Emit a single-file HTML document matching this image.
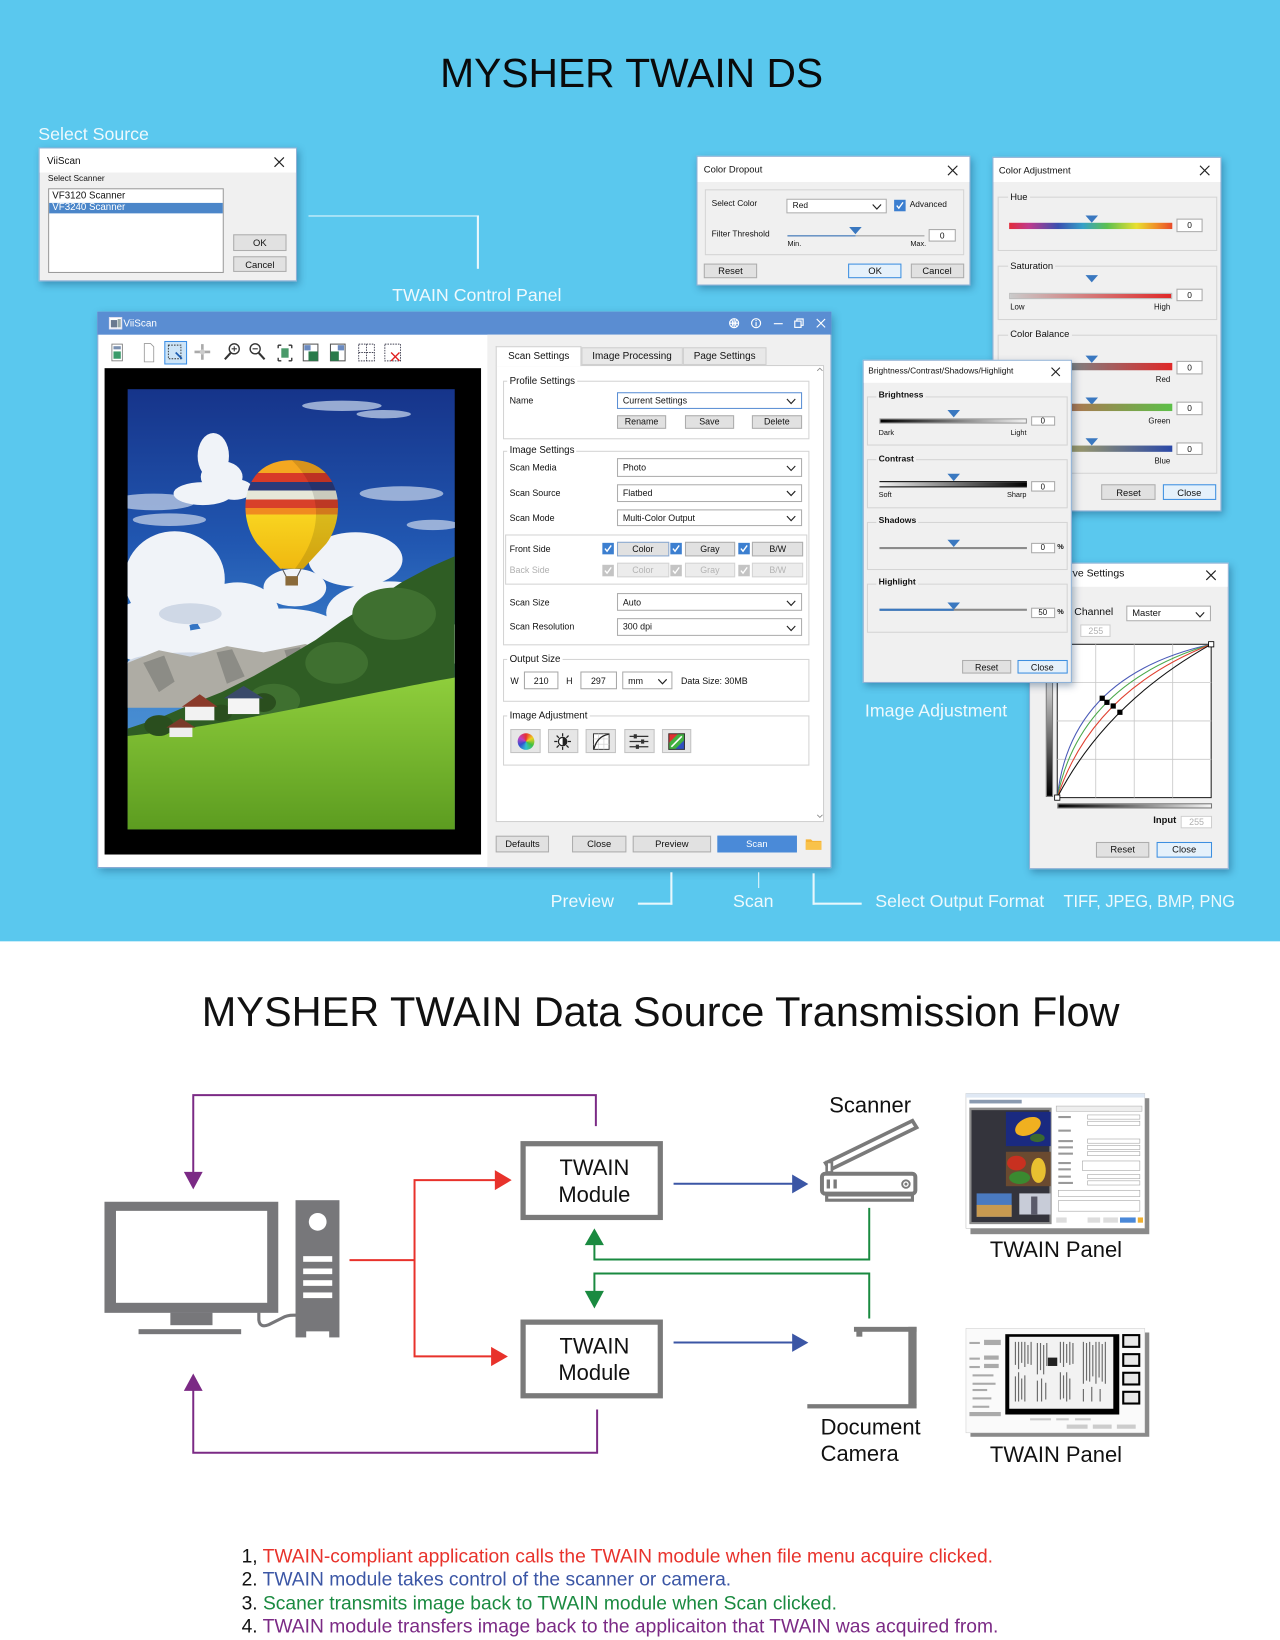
<!DOCTYPE html>
<html><head><meta charset="utf-8"><title>MYSHER TWAIN DS</title>
<style>
*{box-sizing:border-box}
html,body{margin:0;padding:0;background:#fff;width:1280px;height:1640px;overflow:hidden}
#w{position:absolute;left:0;top:0;width:1224px;height:1568px;transform:scale(1.04575,1.04592);transform-origin:0 0;font-family:"Liberation Sans",Arial,sans-serif;color:#111}
.a{position:absolute}
.t{position:absolute;white-space:nowrap;line-height:1}
.wl{color:#eef9fd;font-size:17px}
.dlg{position:absolute;background:#f0f0f0;border:1px solid #8db0d6;box-shadow:2px 3px 7px rgba(0,40,80,.35)}
.tb{position:absolute;background:#fff}
.btn{position:absolute;background:#e1e1e1;border:1px solid #adadad;font-size:9px;display:flex;align-items:center;justify-content:center;color:#111;white-space:nowrap}
.bb{background:#e5f1fb;border-color:#3d8fe0}
.inp{position:absolute;background:#fff;border:1px solid #a8a8a8;font-size:8px;display:flex;align-items:center;justify-content:center;white-space:nowrap}
.grp{position:absolute;border:1px solid #d4d4d4}
.dd{position:absolute;background:#fff;border:1px solid #adadad;font-size:8.5px;display:flex;align-items:center;padding-left:5px;white-space:nowrap}
.tri{position:absolute;width:0;height:0;border-left:6px solid transparent;border-right:6px solid transparent;border-top:7px solid #3a78c0}
.cb{position:absolute;width:11px;height:11px;background:#3c7fd0}
.cbd{position:absolute;width:11px;height:11px;background:#c4c4c4}
.gw{background:#fff;padding:0 2px}
.gg{background:#f0f0f0;padding:0 2px}
.dis{position:absolute;background:#ececec;border:1px solid #d4d4d4;font-size:9px;display:flex;align-items:center;justify-content:center;color:#b4b4b4}
</style></head><body><div id="w">

<!-- top blue band -->
<div class="a" style="left:0;top:0;width:1224px;height:900px;background:#5ac8ee"></div>
<div class="t" style="left:0;top:50.9px;width:1208px;text-align:center;font-size:39px;color:#0a0a0a">MYSHER TWAIN DS</div>

<!-- Select Source -->
<div class="t wl" style="left:36.6px;top:119.6px">Select Source</div>
<div class="dlg" style="left:36.6px;top:140.9px;width:247px;height:128px"></div>
<div class="tb" style="left:37.6px;top:141.9px;width:245px;height:23px"></div>
<div class="t" style="left:45px;top:150px;font-size:9.5px">ViiScan</div>
<svg class="a" style="left:262px;top:150px" width="10" height="10"><path d="M0.5 0.5L9.5 9.5M9.5 0.5L0.5 9.5" stroke="#222" stroke-width="1.1"/></svg>
<div class="t" style="left:45.8px;top:167px;font-size:8px">Select Scanner</div>
<div class="a" style="left:46.2px;top:180px;width:168.3px;height:80.8px;background:#fff;border:1px solid #9a9a9a"></div>
<div class="t" style="left:50px;top:182.6px;font-size:9.3px">VF3120 Scanner</div>
<div class="a" style="left:47.2px;top:193.5px;width:166.3px;height:10.8px;background:#4b86c9"></div>
<div class="t" style="left:50px;top:194.3px;font-size:9.3px;color:#fff">VF3240 Scanner</div>
<div class="btn" style="left:223px;top:224px;width:51px;height:15.5px">OK</div>
<div class="btn" style="left:223px;top:244.8px;width:51px;height:15.5px">Cancel</div>

<div class="a" style="left:295px;top:205.6px;width:163px;height:1.9px;background:#e8f7fc"></div>
<div class="a" style="left:456.2px;top:205.6px;width:1.9px;height:51px;background:#e8f7fc"></div>
<div class="t wl" style="left:375px;top:274.1px">TWAIN Control Panel</div>

<!-- MAIN WINDOW -->
<div class="a" style="left:92.8px;top:298.1px;width:702.2px;height:531.8px;background:#fff;border:1px solid #7fa5d2;box-shadow:2px 3px 8px rgba(0,40,80,.35)"></div>
<div class="a" style="left:92.8px;top:298.1px;width:702.2px;height:22.3px;background:#5a8dd2"></div>
<svg class="a" style="left:104px;top:303px" width="13" height="12"><rect x="0.5" y="0.5" width="12" height="11" fill="#fff" stroke="#dde" /><rect x="2" y="3" width="6" height="7" fill="#6a7a90"/><rect x="8.5" y="2" width="3" height="8" fill="#9aa"/></svg>
<div class="t" style="left:118px;top:304.5px;font-size:9.5px;color:#fff">ViiScan</div>
<svg class="a" style="left:695px;top:302px" width="96" height="14" viewBox="695 302 96 14">
<g fill="none" stroke="#fff" stroke-width="1.1">
<circle cx="702" cy="309" r="4.3"/><path d="M697.7 309h8.6M702 304.7v8.6M699.5 305.5q2.5 3.5 0 7M704.5 305.5q-2.5 3.5 0 7"/>
<circle cx="723" cy="309" r="4.3"/><path d="M723 308v4M723 306v1"/>
<path d="M740 309.5h8.5"/>
<rect x="760" y="307" width="6" height="6"/><path d="M762 307v-2h6v6h-2"/>
<path d="M781 305l8 8M789 305l-8 8"/>
</g></svg>
<div class="a" style="left:465.7px;top:320.4px;width:328.3px;height:508.5px;background:#f0f0f0"></div>

<!-- toolbar -->
<svg class="a" style="left:100px;top:324px" width="295" height="27" viewBox="100 324 295 27">
<rect x="107" y="329" width="10" height="16" fill="#fff" stroke="#777" stroke-width=".8"/><rect x="108.5" y="336" width="7" height="7" fill="#3a9a6a"/><rect x="108.5" y="331" width="7" height="3" fill="#7a90b0"/>
<path d="M138 328.5h6l3 3v14.5h-9z" fill="#fff" stroke="#999" stroke-width=".8"/>
<rect x="157.6" y="326.5" width="20.8" height="21.5" fill="#cce4f7" stroke="#3a8ee6"/><rect x="161" y="330" width="12" height="13" fill="none" stroke="#333" stroke-dasharray="1.5,1.2" stroke-width=".9"/><path d="M168 337l6 6" stroke="#1c5cb0" stroke-width="1.6"/>
<path d="M193.5 329v15M186 336.5h15" stroke="#aaa" stroke-width="2.5"/><circle cx="193.5" cy="336.5" r="2.5" fill="#ccc"/>
<circle cx="224" cy="333.5" r="4.8" fill="#fff" stroke="#333" stroke-width="1.3"/><path d="M220.5 337.5l-5.5 6" stroke="#333" stroke-width="2"/><path d="M221.5 333.5h5M224 331v5" stroke="#333"/>
<circle cx="244" cy="333.5" r="4.8" fill="#fff" stroke="#333" stroke-width="1.3"/><path d="M247.5 337.5l5.5 6" stroke="#333" stroke-width="2"/><path d="M241.5 333.5h5" stroke="#333"/>
<path d="M266 330h3M266 330v3M279 330h-3M279 330v3M266 345h3M266 345v-3M279 345h-3M279 345v-3" stroke="#333" stroke-width="1.3"/><rect x="269" y="333" width="7" height="9" fill="#4a9a6a"/>
<rect x="290" y="329" width="14" height="16" fill="#fff" stroke="#555"/><rect x="295" y="336" width="9" height="9" fill="#2a7a4a"/><rect x="291" y="330" width="6" height="5" fill="#6a8ac0"/>
<rect x="316" y="329" width="14" height="16" fill="#fff" stroke="#555"/><rect x="316" y="336" width="8" height="9" fill="#2a7a4a"/><rect x="323" y="330" width="6" height="5" fill="#6a8ac0"/>
<rect x="343" y="329" width="15" height="16" fill="none" stroke="#445" stroke-dasharray="1.5,1" stroke-width=".9"/><path d="M350.5 329v16M343 337h15" stroke="#445" stroke-dasharray="1.5,1" stroke-width=".9"/>
<rect x="368" y="329" width="15" height="16" fill="none" stroke="#445" stroke-dasharray="1.5,1" stroke-width=".9"/><path d="M374 337l8 8M382 337l-8 8" stroke="#e02020" stroke-width="1.3"/>
</svg>

<!-- preview area -->
<div class="a" style="left:99.6px;top:352.3px;width:360.3px;height:465.2px;background:#000"></div>
<svg class="a" style="left:121.9px;top:371.8px" width="312.9" height="421.6" viewBox="0 0 313 422" preserveAspectRatio="none">
<defs>
<linearGradient id="sky" x1="0" y1="0" x2="0" y2="1"><stop offset="0" stop-color="#16348a"/><stop offset="0.35" stop-color="#2157b1"/><stop offset="0.65" stop-color="#3f86cf"/><stop offset="1" stop-color="#5a9ad6"/></linearGradient>
<linearGradient id="mead" x1="0" y1="0" x2="0" y2="1"><stop offset="0" stop-color="#8fce3c"/><stop offset="1" stop-color="#5c9c20"/></linearGradient>
<linearGradient id="bal" x1="0" y1="0" x2="0" y2="1">
<stop offset="0" stop-color="#f4a820"/><stop offset=".12" stop-color="#f4a820"/><stop offset=".12" stop-color="#d83a28"/><stop offset=".2" stop-color="#d83a28"/><stop offset=".2" stop-color="#2b3a7a"/><stop offset=".28" stop-color="#2b3a7a"/><stop offset=".28" stop-color="#e6e8d8"/><stop offset=".36" stop-color="#e6e8d8"/><stop offset=".36" stop-color="#d8402a"/><stop offset=".44" stop-color="#d8402a"/><stop offset=".44" stop-color="#f08a20"/><stop offset=".5" stop-color="#f08a20"/><stop offset=".5" stop-color="#f8d420"/><stop offset="1" stop-color="#f0b810"/></linearGradient>
</defs>
<rect width="313" height="422" fill="url(#sky)"/>
<g fill="#b8c8e4" opacity=".8"><ellipse cx="205" cy="16" rx="38" ry="5"/><ellipse cx="245" cy="24" rx="26" ry="4"/><ellipse cx="25" cy="108" rx="40" ry="8"/><ellipse cx="40" cy="125" rx="35" ry="6"/><ellipse cx="262" cy="100" rx="40" ry="7"/><ellipse cx="292" cy="130" rx="25" ry="5"/></g>
<g fill="#f0f3f8"><ellipse cx="82" cy="64" rx="15" ry="22"/><ellipse cx="90" cy="84" rx="20" ry="15"/><ellipse cx="72" cy="100" rx="28" ry="11"/><ellipse cx="102" cy="96" rx="18" ry="10"/>
<ellipse cx="45" cy="182" rx="48" ry="46"/><ellipse cx="20" cy="232" rx="40" ry="30"/><ellipse cx="105" cy="215" rx="40" ry="30"/><ellipse cx="150" cy="238" rx="60" ry="28"/><ellipse cx="218" cy="163" rx="45" ry="26"/><ellipse cx="250" cy="214" rx="60" ry="30"/><ellipse cx="292" cy="244" rx="40" ry="22"/><ellipse cx="90" cy="250" rx="60" ry="22"/><ellipse cx="200" cy="250" rx="70" ry="20"/><ellipse cx="160" cy="190" rx="30" ry="18"/></g>
<g fill="#cfd8e6"><ellipse cx="60" cy="262" rx="60" ry="10"/><ellipse cx="200" cy="266" rx="80" ry="10"/><ellipse cx="60" cy="215" rx="30" ry="10"/><ellipse cx="250" cy="232" rx="40" ry="9"/></g>
<polygon points="0,262 30,250 60,256 95,246 130,252 170,244 205,256 230,262 230,305 0,305" fill="#aeaca4"/>
<g fill="#8c8c86"><polygon points="15,262 35,255 45,280 30,290"/><polygon points="85,252 100,249 112,275 95,282"/><polygon points="150,250 165,247 172,270 158,275"/></g>
<polygon points="313,160 290,170 262,185 232,205 205,222 180,240 150,258 120,275 90,290 60,302 30,315 0,325 0,422 313,422" fill="#2f5d24"/>
<g fill="#3f7030"><ellipse cx="255" cy="215" rx="40" ry="25"/><ellipse cx="200" cy="262" rx="30" ry="20"/><ellipse cx="140" cy="298" rx="25" ry="16"/></g>
<path d="M0,332 C60,326 130,312 200,298 C250,288 290,280 313,276 L313,422 L0,422 Z" fill="url(#mead)"/>
<g fill="#2a4e1e"><ellipse cx="30" cy="322" rx="14" ry="10"/><ellipse cx="130" cy="300" rx="12" ry="9"/><ellipse cx="90" cy="310" rx="10" ry="8"/></g>
<rect x="55" y="302" width="28" height="15" fill="#f2f2f2"/><polygon points="52,304 69,292 86,304" fill="#8a3a2a"/>
<rect x="96" y="294" width="30" height="17" fill="#f4f4f4"/><polygon points="92,296 111,284 130,296" fill="#3a4a6a"/>
<rect x="40" y="322" width="22" height="11" fill="#eee"/><polygon points="37,324 51,315 65,324" fill="#7a3a2a"/>
<path d="M157,68 C206,68 210,122 190,148 L168,172 L146,172 L124,148 C104,122 108,68 157,68 Z" fill="url(#bal)"/>
<path d="M157,68 C206,68 210,122 190,148 L168,172 L160,172 C185,140 190,100 157,68 Z" fill="#000" opacity=".12"/>
<path d="M148,172 L152,180 M166,172 L162,180" stroke="#555" stroke-width="1"/>
<rect x="151" y="179" width="12" height="9" fill="#8a6a3a"/>
</svg>

<!-- right panel: tabs -->
<div class="a" style="left:556.2px;top:332.2px;width:96.4px;height:16.5px;background:#e8e8e8;border:1px solid #cfcfcf;font-size:9.5px;display:flex;align-items:center;justify-content:center">Image Processing</div>
<div class="a" style="left:652.6px;top:332.2px;width:80.7px;height:16.5px;background:#e8e8e8;border:1px solid #cfcfcf;font-size:9.5px;display:flex;align-items:center;justify-content:center">Page Settings</div>
<div class="a" style="left:474.2px;top:348.7px;width:313.7px;height:436.9px;background:#fff;border:1px solid #cfcfcf"></div>
<div class="a" style="left:474.2px;top:330.5px;width:82px;height:19.2px;background:#fff;border:1px solid #cfcfcf;border-bottom:none;font-size:9.5px;display:flex;align-items:center;justify-content:center">Scan Settings</div>
<svg class="a" style="left:780px;top:349px" width="8" height="436" viewBox="0 0 8 436"><path d="M1.5 5.5l2.5-2.5 2.5 2.5M1.5 430l2.5 2.5 2.5-2.5" fill="none" stroke="#888" stroke-width=".8"/></svg>

<!-- Profile settings -->
<div class="grp" style="left:480.7px;top:364px;width:293.3px;height:55.9px"></div>
<div class="t gw" style="left:485.3px;top:359.5px;font-size:9.3px">Profile Settings</div>
<div class="t" style="left:487.3px;top:379.1px;font-size:8.5px">Name</div>
<div class="dd" style="left:589.6px;top:375.3px;width:177.6px;height:15.9px;border-color:#5b8fd4">Current Settings<svg class="a" style="right:5px;top:5px" width="9" height="6"><polyline points="0.5,0.5 4.5,4.8 8.5,0.5" fill="none" stroke="#222" stroke-width="1.1"/></svg></div>
<div class="btn" style="left:589.6px;top:396.5px;width:47.8px;height:13.1px;font-size:8.5px">Rename</div>
<div class="btn" style="left:654.5px;top:396.5px;width:47.7px;height:13.1px;font-size:8.5px">Save</div>
<div class="btn" style="left:718.5px;top:396.5px;width:48.7px;height:13.1px;font-size:8.5px">Delete</div>

<!-- Image settings -->
<div class="grp" style="left:480.7px;top:431.2px;width:293.3px;height:185.8px"></div>
<div class="t gw" style="left:485.3px;top:426.4px;font-size:9.3px">Image Settings</div>
<div class="t" style="left:487.3px;top:442.8px;font-size:8.5px">Scan Media</div>
<div class="dd" style="left:589.6px;top:438.2px;width:177.6px;height:17.4px">Photo<svg class="a" style="right:5px;top:5.5px" width="9" height="6"><polyline points="0.5,0.5 4.5,4.8 8.5,0.5" fill="none" stroke="#222" stroke-width="1.1"/></svg></div>
<div class="t" style="left:487.3px;top:467.1px;font-size:8.5px">Scan Source</div>
<div class="dd" style="left:589.6px;top:462.7px;width:177.6px;height:16.9px">Flatbed<svg class="a" style="right:5px;top:5.5px" width="9" height="6"><polyline points="0.5,0.5 4.5,4.8 8.5,0.5" fill="none" stroke="#222" stroke-width="1.1"/></svg></div>
<div class="t" style="left:487.3px;top:490.9px;font-size:8.5px">Scan Mode</div>
<div class="dd" style="left:589.6px;top:486.7px;width:177.6px;height:16.6px">Multi-Color Output<svg class="a" style="right:5px;top:5.5px" width="9" height="6"><polyline points="0.5,0.5 4.5,4.8 8.5,0.5" fill="none" stroke="#222" stroke-width="1.1"/></svg></div>
<div class="grp" style="left:483px;top:510.8px;width:288.8px;height:48.5px"></div>
<div class="t" style="left:487.3px;top:520.6px;font-size:8.5px">Front Side</div>
<div class="cb" style="left:576.1px;top:519.2px"><svg width="11" height="11" style="display:block"><polyline points="2.5,5.5 4.5,8 8.5,2.5" fill="none" stroke="#fff" stroke-width="1.3"/></svg></div>
<div class="btn" style="left:589.6px;top:517.5px;width:50.2px;height:14.5px;font-size:8.5px;border-color:#8aa8d0">Color</div>
<div class="cb" style="left:641px;top:519.2px"><svg width="11" height="11" style="display:block"><polyline points="2.5,5.5 4.5,8 8.5,2.5" fill="none" stroke="#fff" stroke-width="1.3"/></svg></div>
<div class="btn" style="left:654.5px;top:517.5px;width:48.7px;height:14.5px;font-size:8.5px">Gray</div>
<div class="cb" style="left:706px;top:519.2px"><svg width="11" height="11" style="display:block"><polyline points="2.5,5.5 4.5,8 8.5,2.5" fill="none" stroke="#fff" stroke-width="1.3"/></svg></div>
<div class="btn" style="left:719.4px;top:517.5px;width:48.7px;height:14.5px;font-size:8.5px">B/W</div>
<div class="t" style="left:487.3px;top:541px;font-size:8.5px;color:#b0b0b0">Back Side</div>
<div class="cbd" style="left:576.1px;top:539.6px"><svg width="11" height="11" style="display:block"><polyline points="2.5,5.5 4.5,8 8.5,2.5" fill="none" stroke="#fff" stroke-width="1.3"/></svg></div>
<div class="dis" style="left:589.6px;top:538px;width:50.2px;height:14.2px;font-size:8.5px">Color</div>
<div class="cbd" style="left:641px;top:539.6px"><svg width="11" height="11" style="display:block"><polyline points="2.5,5.5 4.5,8 8.5,2.5" fill="none" stroke="#fff" stroke-width="1.3"/></svg></div>
<div class="dis" style="left:654.5px;top:538px;width:48.7px;height:14.2px;font-size:8.5px">Gray</div>
<div class="cbd" style="left:706px;top:539.6px"><svg width="11" height="11" style="display:block"><polyline points="2.5,5.5 4.5,8 8.5,2.5" fill="none" stroke="#fff" stroke-width="1.3"/></svg></div>
<div class="dis" style="left:719.4px;top:538px;width:48.7px;height:14.2px;font-size:8.5px">B/W</div>
<div class="t" style="left:487.3px;top:571.6px;font-size:8.5px">Scan Size</div>
<div class="dd" style="left:589.6px;top:567.4px;width:177.6px;height:16.6px">Auto<svg class="a" style="right:5px;top:5.5px" width="9" height="6"><polyline points="0.5,0.5 4.5,4.8 8.5,0.5" fill="none" stroke="#222" stroke-width="1.1"/></svg></div>
<div class="t" style="left:487.3px;top:595.4px;font-size:8.5px">Scan Resolution</div>
<div class="dd" style="left:589.6px;top:591.1px;width:177.6px;height:16.7px">300 dpi<svg class="a" style="right:5px;top:5.5px" width="9" height="6"><polyline points="0.5,0.5 4.5,4.8 8.5,0.5" fill="none" stroke="#222" stroke-width="1.1"/></svg></div>

<!-- Output size -->
<div class="grp" style="left:480.7px;top:630px;width:293.3px;height:40.7px"></div>
<div class="t gw" style="left:485.3px;top:626px;font-size:9.3px">Output Size</div>
<div class="t" style="left:488px;top:646.6px;font-size:8.5px">W</div>
<div class="inp" style="left:500.6px;top:642.4px;width:33.9px;height:16.6px;font-size:8.5px">210</div>
<div class="t" style="left:541.4px;top:646.6px;font-size:8.5px">H</div>
<div class="inp" style="left:554.8px;top:642.4px;width:34.8px;height:16.6px;font-size:8.5px">297</div>
<div class="dd" style="left:594.7px;top:642.4px;width:48.3px;height:16.6px">mm<svg class="a" style="right:4px;top:5.5px" width="9" height="6"><polyline points="0.5,0.5 4.5,4.8 8.5,0.5" fill="none" stroke="#222" stroke-width="1.1"/></svg></div>
<div class="t" style="left:651.2px;top:646.6px;font-size:8.5px">Data Size: 30MB</div>

<!-- Image adjustment -->
<div class="grp" style="left:480.7px;top:683.7px;width:293.3px;height:48.2px"></div>
<div class="t gw" style="left:485.3px;top:680.1px;font-size:9.3px">Image Adjustment</div>
<div class="a" style="left:488.1px;top:697.3px;width:28.9px;height:22.9px;background:#e6e6e6;border:1px solid #c4c4c4"></div>
<div class="a" style="left:494.5px;top:700.7px;width:16px;height:16px;border-radius:50%;background:conic-gradient(#e83030,#f0d020,#40c040,#30c0d0,#3050d0,#c040c0,#e83030)"></div>
<div class="a" style="left:523.8px;top:697.3px;width:29.2px;height:22.9px;background:#e6e6e6;border:1px solid #c4c4c4"></div>
<svg class="a" style="left:529.4px;top:699.7px" width="18" height="18"><g stroke="#222" stroke-width="1.2"><path d="M9 1v3M9 14v3M1 9h3M14 9h3M3.3 3.3l2.1 2.1M12.6 12.6l2.1 2.1M3.3 14.7l2.1-2.1M12.6 5.4l2.1-2.1"/></g><circle cx="9" cy="9" r="4" fill="#fff" stroke="#222" stroke-width="1.2"/><path d="M9 5a4 4 0 0 1 0 8z" fill="#222"/></svg>
<div class="a" style="left:559.9px;top:697.3px;width:29.2px;height:22.9px;background:#e6e6e6;border:1px solid #c4c4c4"></div>
<svg class="a" style="left:566.5px;top:700.7px" width="16" height="16"><rect x=".5" y=".5" width="15" height="15" fill="#fff" stroke="#333"/><path d="M5.5 .5v15M10.5 .5v15M.5 5.5h15M.5 10.5h15" stroke="#ccc" stroke-width=".6"/><path d="M1 15Q4 3 15 1" fill="none" stroke="#222" stroke-width="1.2"/></svg>
<div class="a" style="left:596.5px;top:697.3px;width:29.2px;height:22.9px;background:#e6e6e6;border:1px solid #c4c4c4"></div>
<svg class="a" style="left:601px;top:701px" width="20" height="16"><path d="M1 3h18M1 8h18M1 13h18" stroke="#333" stroke-width="1.2"/><rect x="5" y="1" width="3" height="4" fill="#333"/><rect x="12" y="6" width="3" height="4" fill="#333"/><rect x="7" y="11" width="3" height="4" fill="#333"/></svg>
<div class="a" style="left:632.7px;top:697.3px;width:28.7px;height:22.9px;background:#e6e6e6;border:1px solid #c4c4c4"></div>
<svg class="a" style="left:639px;top:700.7px" width="16" height="16"><polygon points="0,0 16,0 0,16" fill="#e03030"/><polygon points="16,0 16,16 0,16" fill="#3050c0"/><polygon points="10,0 16,0 16,6 6,16 0,16 0,10" fill="#40b040"/><path d="M3 13L13 3" stroke="#fff" stroke-width="1.5"/><rect x=".5" y=".5" width="15" height="15" fill="none" stroke="#333"/></svg>

<!-- bottom buttons -->
<div class="btn" style="left:474.2px;top:798.7px;width:50.9px;height:16.3px">Defaults</div>
<div class="btn" style="left:547px;top:798.7px;width:51.9px;height:16.3px">Close</div>
<div class="btn" style="left:604.9px;top:798.7px;width:75.1px;height:16.3px">Preview</div>
<div class="btn" style="left:686px;top:798.7px;width:75.5px;height:16.3px;background:#4a8ad8;border-color:#4a8ad8;color:#fff">Scan</div>
<svg class="a" style="left:770.4px;top:800.4px" width="16" height="13"><path d="M0.5 2.5h5l1.5 1.5h8.5v8.5h-15z" fill="#f5b335"/><path d="M0.5 5h15v7.5h-15z" fill="#f9c24a"/></svg>

<!-- connectors below window -->
<div class="a" style="left:641.3px;top:834.4px;width:1.5px;height:30.2px;background:#e8f7fc"></div>
<div class="a" style="left:610px;top:863.1px;width:32.8px;height:1.5px;background:#e8f7fc"></div>
<div class="a" style="left:724.7px;top:834.4px;width:1.5px;height:15px;background:#e8f7fc"></div>
<div class="a" style="left:777px;top:835px;width:1.5px;height:29.6px;background:#e8f7fc"></div>
<div class="a" style="left:777px;top:863.1px;width:46.8px;height:1.5px;background:#e8f7fc"></div>
<div class="t wl" style="left:526.6px;top:853.2px">Preview</div>
<div class="t wl" style="left:700.9px;top:853.2px">Scan</div>
<div class="t wl" style="left:837px;top:853.2px">Select Output Format</div>
<div class="t wl" style="left:1017.4px;top:853.2px;transform:scaleX(.92);transform-origin:0 0">TIFF, JPEG, BMP, PNG</div>

<!-- COLOR DROPOUT -->
<div class="dlg" style="left:665.7px;top:149.2px;width:262.4px;height:124.3px"></div>
<div class="tb" style="left:666.7px;top:150.2px;width:260.4px;height:23.5px"></div>
<div class="t" style="left:673px;top:157.5px;font-size:9px">Color Dropout</div>
<svg class="a" style="left:906px;top:157.8px" width="10" height="10"><path d="M0.5 0.5L9.5 9.5M9.5 0.5L0.5 9.5" stroke="#222" stroke-width="1.1"/></svg>
<div class="grp" style="left:673.7px;top:181px;width:247.9px;height:62.8px"></div>
<div class="t" style="left:680.5px;top:191.4px;font-size:8px">Select Color</div>
<div class="dd" style="left:752px;top:189.6px;width:95.5px;height:14.4px;font-size:8px">Red<svg class="a" style="right:4px;top:4.5px" width="9" height="6"><polyline points="0.5,0.5 4.5,4.8 8.5,0.5" fill="none" stroke="#222" stroke-width="1.1"/></svg></div>
<div class="cb" style="left:854.8px;top:191.2px"><svg width="11" height="11" style="display:block"><polyline points="2.5,5.5 4.5,8 8.5,2.5" fill="none" stroke="#fff" stroke-width="1.3"/></svg></div>
<div class="t" style="left:869.9px;top:192.1px;font-size:8px">Advanced</div>
<div class="t" style="left:680.5px;top:219.5px;font-size:8px">Filter Threshold</div>
<div class="a" style="left:753px;top:224.7px;width:131.3px;height:1.6px;background:#9a9a9a"></div>
<div class="a" style="left:753px;top:224.7px;width:65px;height:1.6px;background:#3a78c0"></div>
<div class="tri" style="left:812.3px;top:216.8px"></div>
<div class="inp" style="left:888px;top:219px;width:25.9px;height:12.1px">0</div>
<div class="t" style="left:753px;top:230px;font-size:7px">Min.</div>
<div class="t" style="left:870.5px;top:230px;font-size:7px">Max.</div>
<div class="btn" style="left:673px;top:251.8px;width:51px;height:14.3px">Reset</div>
<div class="btn bb" style="left:811.3px;top:251.8px;width:51px;height:14.3px">OK</div>
<div class="btn" style="left:870.5px;top:251.8px;width:51.1px;height:14.3px">Cancel</div>

<!-- COLOR ADJUSTMENT -->
<div class="dlg" style="left:948.6px;top:149.8px;width:219.9px;height:338.8px"></div>
<div class="tb" style="left:949.6px;top:150.8px;width:217.9px;height:23.5px"></div>
<div class="t" style="left:955.2px;top:158.8px;font-size:9px">Color Adjustment</div>
<svg class="a" style="left:1147px;top:158.4px" width="10" height="10"><path d="M0.5 0.5L9.5 9.5M9.5 0.5L0.5 9.5" stroke="#222" stroke-width="1.1"/></svg>
<div class="grp" style="left:953.5px;top:188px;width:210.1px;height:52px"></div>
<div class="t gg" style="left:964px;top:183.6px;font-size:9px">Hue</div>
<div class="tri" style="left:1037.7px;top:205.6px"></div>
<div class="a" style="left:965.4px;top:212.6px;width:156.1px;height:6.4px;background:linear-gradient(90deg,#e22b3a 0%,#c03a8c 12%,#3a4fb0 30%,#36a0c8 45%,#5cc050 60%,#e8e030 78%,#f09028 90%,#e84a2a 100%)"></div>
<div class="inp" style="left:1124.7px;top:209.4px;width:25.6px;height:12.4px">0</div>
<div class="grp" style="left:953.5px;top:254.3px;width:210.1px;height:51.7px"></div>
<div class="t gg" style="left:964px;top:249.6px;font-size:9px">Saturation</div>
<div class="tri" style="left:1037.7px;top:262.9px"></div>
<div class="a" style="left:965.4px;top:279.5px;width:156.1px;height:6.1px;background:linear-gradient(90deg,#cacaca,#e02828);border:1px solid #bbb"></div>
<div class="inp" style="left:1124.7px;top:276px;width:25.6px;height:12.4px">0</div>
<div class="t" style="left:966px;top:290.1px;font-size:7.5px">Low</div>
<div class="t" style="left:1080px;top:290.1px;width:39px;text-align:right;font-size:7.5px">High</div>
<div class="grp" style="left:953.5px;top:320.3px;width:210.1px;height:132.3px"></div>
<div class="t gg" style="left:964px;top:315.3px;font-size:9px">Color Balance</div>
<div class="tri" style="left:1037.7px;top:339.5px"></div>
<div class="a" style="left:965.4px;top:347.4px;width:156.1px;height:7px;background:linear-gradient(90deg,#40b8b8,#e02828)"></div>
<div class="inp" style="left:1124.7px;top:344.8px;width:25.6px;height:12.8px">0</div>
<div class="t" style="left:1080px;top:359.3px;width:39px;text-align:right;font-size:7.5px">Red</div>
<div class="tri" style="left:1037.7px;top:379.5px"></div>
<div class="a" style="left:965.4px;top:386.3px;width:156.1px;height:7px;background:linear-gradient(90deg,#e04858,#5cc048)"></div>
<div class="inp" style="left:1124.7px;top:383.8px;width:25.6px;height:12.8px">0</div>
<div class="t" style="left:1080px;top:398.5px;width:39px;text-align:right;font-size:7.5px">Green</div>
<div class="tri" style="left:1037.7px;top:418.5px"></div>
<div class="a" style="left:965.4px;top:425.5px;width:156.1px;height:6.7px;background:linear-gradient(90deg,#e8d040,#2a48a8)"></div>
<div class="inp" style="left:1124.7px;top:423px;width:25.6px;height:12px">0</div>
<div class="t" style="left:1080px;top:436.7px;width:39px;text-align:right;font-size:7.5px">Blue</div>
<div class="btn" style="left:1053.3px;top:463.1px;width:51.7px;height:15px">Reset</div>
<div class="btn bb" style="left:1111.6px;top:463.1px;width:51.4px;height:15px">Close</div>

<!-- CURVE SETTINGS -->
<div class="dlg" style="left:984.2px;top:538px;width:191.3px;height:293.2px"></div>
<div class="tb" style="left:985.2px;top:539px;width:189.3px;height:22px"></div>
<div class="t" style="left:1009.6px;top:543.5px;font-size:10px">Curve Settings</div>
<svg class="a" style="left:1153.2px;top:545px" width="10" height="10"><path d="M0.5 0.5L9.5 9.5M9.5 0.5L0.5 9.5" stroke="#222" stroke-width="1.1"/></svg>
<div class="t" style="left:1027.3px;top:580.5px;font-size:10px">Channel</div>
<div class="dd" style="left:1076.7px;top:579.1px;width:81.3px;height:14.7px;font-size:9px">Master<svg class="a" style="right:5px;top:4.5px" width="9" height="6"><polyline points="0.5,0.5 4.5,4.8 8.5,0.5" fill="none" stroke="#222" stroke-width="1.1"/></svg></div>
<div class="inp" style="left:1033.4px;top:597px;width:29px;height:11.8px;color:#b0b0b0;border-color:#cfcfcf;font-size:8.5px">255</div>
<div class="a" style="left:1000.2px;top:650.2px;width:6.4px;height:112.2px;background:linear-gradient(180deg,#d8d8d8,#000);border:1px solid #777"></div>
<div class="a" style="left:1011.4px;top:767.5px;width:147.2px;height:5.7px;background:linear-gradient(90deg,#000,#f4f4f4);border:1px solid #777"></div>
<svg class="a" style="left:1011.4px;top:615.8px;overflow:visible" width="147.2" height="146.6" viewBox="0 0 147.2 146.6">
<rect x="0" y="0" width="147.2" height="146.6" fill="#fff" stroke="#222" stroke-width="1"/>
<path d="M36.8 0v146.6M73.6 0v146.6M110.4 0v146.6M0 36.65h147.2M0 73.3h147.2M0 109.95h147.2" stroke="#c8c8c8" stroke-width=".8"/>
<g fill="none" stroke-width="1"><path d="M0 146.6Q12.4 29.9 147.2 0" stroke="#4a5ab8"/><path d="M0 146.6Q21.4 37.7 147.2 0" stroke="#4aa84a"/><path d="M0 146.6Q33.4 44.7 147.2 0" stroke="#e04030"/><path d="M0 146.6Q46.2 56.7 147.2 0" stroke="#111"/></g>
<g fill="#000"><rect x="40.5" y="49.1" width="5" height="5"/><rect x="45" y="53" width="5" height="5"/><rect x="51" y="56.5" width="5" height="5"/><rect x="57.4" y="62.5" width="5" height="5"/></g>
<rect x="-2.5" y="144.1" width="5" height="5" fill="#fff" stroke="#000" stroke-width=".8"/><rect x="144.7" y="-2.5" width="5" height="5" fill="#fff" stroke="#000" stroke-width=".8"/>
</svg>
<div class="t" style="left:1102.8px;top:780.3px;font-size:9px;font-weight:bold">Input</div>
<div class="inp" style="left:1129.3px;top:780px;width:29.9px;height:12px;color:#b0b0b0;border-color:#cfcfcf;font-size:8.5px">255</div>
<div class="btn" style="left:1047.7px;top:804.8px;width:51.7px;height:15px">Reset</div>
<div class="btn bb" style="left:1106px;top:804.8px;width:52.8px;height:15px">Close</div>

<!-- BRIGHTNESS dialog -->
<div class="dlg" style="left:824.9px;top:344.2px;width:200.5px;height:309.2px"></div>
<div class="tb" style="left:825.9px;top:345.2px;width:198.5px;height:20.7px"></div>
<div class="t" style="left:830.3px;top:350.8px;font-size:8px">Brightness/Contrast/Shadows/Highlight</div>
<svg class="a" style="left:1005px;top:350.7px" width="9" height="9"><path d="M0.5 0.5L8.5 8.5M8.5 0.5L0.5 8.5" stroke="#222" stroke-width="1.1"/></svg>
<div class="grp" style="left:829.3px;top:378.7px;width:191.3px;height:47.5px"></div>
<div class="t gg" style="left:838.2px;top:374px;font-size:8.2px;font-weight:bold">Brightness</div>
<div class="tri" style="left:905.5px;top:392px"></div>
<div class="a" style="left:840.5px;top:399.7px;width:141.2px;height:5.1px;background:linear-gradient(90deg,#000,#f2f2f2);border:1px solid #999"></div>
<div class="inp" style="left:985.5px;top:397.5px;width:23.3px;height:9.8px;font-size:7.5px">0</div>
<div class="t" style="left:840.2px;top:410.7px;font-size:7px">Dark</div>
<div class="t" style="left:941.6px;top:410.7px;width:40px;text-align:right;font-size:7px">Light</div>
<div class="grp" style="left:829.3px;top:439.2px;width:191.3px;height:46.8px"></div>
<div class="t gg" style="left:838.2px;top:434.6px;font-size:8.2px;font-weight:bold">Contrast</div>
<div class="tri" style="left:905.5px;top:452.6px"></div>
<div class="a" style="left:840.5px;top:460px;width:141.2px;height:5.7px;background:linear-gradient(90deg,#f4f4f4,#000);border-top:1.6px solid #000;border-bottom:1.6px solid #000"></div>
<div class="inp" style="left:985.5px;top:460.1px;width:23.3px;height:9.9px;font-size:7.5px">0</div>
<div class="t" style="left:840.2px;top:469.6px;font-size:7px">Soft</div>
<div class="t" style="left:941.6px;top:469.6px;width:40px;text-align:right;font-size:7px">Sharp</div>
<div class="grp" style="left:829.3px;top:498.5px;width:191.3px;height:46.5px"></div>
<div class="t gg" style="left:838.2px;top:493.8px;font-size:8.2px;font-weight:bold">Shadows</div>
<div class="tri" style="left:905.5px;top:515.9px"></div>
<div class="a" style="left:840.5px;top:522.7px;width:141.2px;height:1.9px;background:#8a8a8a"></div>
<div class="inp" style="left:985.5px;top:518.9px;width:23.3px;height:9.9px;font-size:7.5px">0</div>
<div class="t" style="left:1011px;top:520px;font-size:7px;font-weight:bold">%</div>
<div class="grp" style="left:829.3px;top:557.8px;width:191.3px;height:47.2px"></div>
<div class="t gg" style="left:838.2px;top:553.1px;font-size:8.2px;font-weight:bold">Highlight</div>
<div class="tri" style="left:905.5px;top:575.6px"></div>
<div class="a" style="left:840.5px;top:582.3px;width:141.2px;height:1.9px;background:#8a8a8a"></div>
<div class="a" style="left:840.5px;top:582.3px;width:71px;height:1.9px;background:#3a78c0"></div>
<div class="inp" style="left:985.5px;top:580.6px;width:23.3px;height:10.2px;font-size:7.5px">50</div>
<div class="t" style="left:1011px;top:582px;font-size:7px;font-weight:bold">%</div>
<div class="btn" style="left:919.6px;top:631.1px;width:47.8px;height:13.4px;font-size:8.5px">Reset</div>
<div class="btn bb" style="left:972.8px;top:631.1px;width:47.8px;height:13.4px;font-size:8.5px">Close</div>

<div class="t wl" style="left:827.1px;top:670.9px">Image Adjustment</div>

<!-- FLOW DIAGRAM -->
<svg class="a" style="left:0;top:900px" width="1224" height="668" viewBox="0 900 1224 668">
<text x="192.9" y="980.8" font-size="39.7" fill="#111">MYSHER TWAIN Data Source Transmission Flow</text>

<g fill="none" stroke="#7b2a85" stroke-width="1.9"><polyline points="569.8,1076.7 569.8,1047 184.8,1047 184.8,1122"/><polyline points="184.8,1328 184.8,1389 571,1389 571,1347.6"/></g>
<g fill="#7b2a85"><polygon points="175.8,1120.4 193.8,1120.4 184.8,1137.2"/><polygon points="175.8,1329.8 193.8,1329.8 184.8,1313.2"/></g>

<g fill="none" stroke="#e8322b" stroke-width="1.9"><polyline points="334.2,1204.8 396.4,1204.8"/><polyline points="475,1128.3 396.4,1128.3 396.4,1296.8 471,1296.8"/></g>
<g fill="#e8322b"><polygon points="473.2,1118.8 489.3,1128.3 473.2,1137.9"/><polygon points="469.6,1287.7 485.7,1297 469.6,1306.2"/></g>

<g stroke="#3b56a5" stroke-width="1.9"><line x1="644.1" y1="1131.8" x2="760" y2="1131.8"/><line x1="644.1" y1="1283.6" x2="760" y2="1283.6"/></g>
<g fill="#3b56a5"><polygon points="757.5,1122.9 773,1132 757.5,1141"/><polygon points="757.5,1274.9 773,1283.7 757.5,1292.5"/></g>

<g fill="none" stroke="#1a8a40" stroke-width="1.9"><polyline points="831.2,1154.8 831.2,1204.2 568.4,1204.2 568.4,1189"/><polyline points="831.2,1260.6 831.2,1217.6 568.4,1217.6 568.4,1236"/></g>
<g fill="#1a8a40"><polygon points="559.2,1190.5 577.5,1190.5 568.4,1174.5"/><polygon points="559.2,1234.2 577.5,1234.2 568.4,1251"/></g>

<rect x="500.2" y="1093.5" width="131.2" height="70.5" fill="#fff" stroke="#7a7a7a" stroke-width="5"/>
<rect x="500.2" y="1264.1" width="131.2" height="70.4" fill="#fff" stroke="#7a7a7a" stroke-width="5"/>
<g font-size="21" text-anchor="middle" fill="#111"><text x="568.4" y="1123.5">TWAIN</text><text x="568.4" y="1149">Module</text><text x="568.4" y="1294">TWAIN</text><text x="568.4" y="1319.6">Module</text></g>

<!-- computer -->
<rect x="99.9" y="1149" width="166.2" height="106.2" fill="#77777a"/>
<rect x="110.9" y="1157.7" width="144.6" height="87.9" fill="#fff"/>
<rect x="162.9" y="1255" width="40.3" height="12" fill="#77777a"/>
<rect x="132.5" y="1270.8" width="98.1" height="4.8" fill="#77777a"/>
<path d="M247.5,1255 L247.5,1262 Q248.5,1270 257,1266.5 L270,1260 Q275,1257 283,1257.5" fill="none" stroke="#77777a" stroke-width="3"/>
<rect x="282.6" y="1147.5" width="42" height="131.2" fill="#77777a"/>
<rect x="292.8" y="1272.9" width="22" height="6" fill="#fff"/>
<circle cx="303.8" cy="1168.2" r="8.5" fill="#fff"/>
<g fill="#fff"><rect x="289.9" y="1201" width="27.8" height="5.4"/><rect x="289.9" y="1212.8" width="27.8" height="5.4"/><rect x="289.9" y="1224" width="27.8" height="5.4"/><rect x="289.9" y="1235.7" width="27.8" height="5.4"/></g>

<!-- scanner -->
<text x="793" y="1063.6" font-size="21" fill="#111">Scanner</text>
<g fill="#fff" stroke="#7a7a7a">
<polygon points="789.5,1112 872.5,1071.5 876.5,1078 793.5,1118.5" stroke-width="3.5"/>
<rect x="790.5" y="1111" width="5" height="10" stroke-width="2.5"/>
<rect x="786" y="1122.2" width="89.3" height="19" rx="3" stroke-width="3.8"/>
<rect x="790.5" y="1142.5" width="82" height="5" stroke-width="3"/>
</g>
<g fill="#7a7a7a"><rect x="790.5" y="1127.7" width="3.2" height="8.6"/><rect x="797" y="1127.7" width="3.2" height="8.6"/><circle cx="866.3" cy="1132.1" r="1.4"/></g>
<circle cx="866.3" cy="1132.1" r="3.6" fill="none" stroke="#7a7a7a" stroke-width="1.8"/>

<!-- document camera -->
<g fill="#7a7a7a"><rect x="816.6" y="1268.6" width="59.9" height="4.7"/><rect x="818.9" y="1273" width="5.7" height="5"/><rect x="868.6" y="1268.6" width="7.9" height="74.9"/><rect x="772" y="1342.5" width="104.5" height="4.1"/></g>
<text x="784.7" y="1371.5" font-size="21" fill="#111">Document</text>
<text x="784.7" y="1396.7" font-size="21" fill="#111">Camera</text>

<!-- TWAIN panel 1 -->
<rect x="928" y="1050" width="171" height="130" fill="#8a8a8a"/>
<rect x="923.7" y="1045.4" width="171" height="129" fill="#fff" stroke="#bbb" stroke-width=".5"/>
<rect x="923.7" y="1045.4" width="171" height="4" fill="#dfe8f4"/>
<rect x="927" y="1051.5" width="50" height="3.5" fill="#8a9ab0"/>
<rect x="926.9" y="1059" width="78.7" height="111.4" fill="#8c8c8c"/>
<rect x="929" y="1061.4" width="74.5" height="107" fill="#34343c"/>
<rect x="961.9" y="1063" width="42.8" height="32.8" fill="#1a2a80"/>
<ellipse cx="983" cy="1077" rx="13" ry="8" fill="#f0b020" transform="rotate(-25 983 1077)"/>
<ellipse cx="992" cy="1088" rx="7" ry="4" fill="#3a6a30"/>
<rect x="961.9" y="1101.2" width="42.8" height="32.9" fill="#6a4a30"/>
<ellipse cx="972" cy="1112" rx="9" ry="7" fill="#c83020"/>
<ellipse cx="993" cy="1119" rx="7" ry="12" fill="#e8c030"/>
<ellipse cx="975" cy="1126" rx="10" ry="6" fill="#3a8a30"/>
<rect x="933.9" y="1141" width="33.5" height="22.4" fill="#4a7ac0"/>
<rect x="933.9" y="1152" width="33.5" height="11.4" fill="#c89a50"/>
<rect x="974.7" y="1141" width="30" height="20.2" fill="#c8ccd8"/>
<rect x="986" y="1144" width="6" height="17" fill="#5a5a6a"/>
<rect x="1010" y="1057.5" width="82" height="5" fill="#eee" stroke="#aaa" stroke-width=".5"/>
<g fill="#999"><rect x="1012" y="1067" width="12" height="2"/><rect x="1012" y="1080" width="12" height="2"/><rect x="1012" y="1090" width="14" height="2"/><rect x="1012" y="1096" width="14" height="2"/><rect x="1012" y="1102" width="14" height="2"/><rect x="1012" y="1111" width="12" height="2"/><rect x="1012" y="1117" width="12" height="2"/><rect x="1012" y="1124" width="12" height="2"/><rect x="1012" y="1130" width="14" height="2"/><rect x="1012" y="1140" width="12" height="2"/><rect x="1012" y="1150" width="12" height="2"/></g>
<g fill="#fff" stroke="#999" stroke-width=".5"><rect x="1040" y="1066" width="50" height="4"/><rect x="1040" y="1072" width="50" height="4"/><rect x="1040" y="1089" width="50" height="4"/><rect x="1040" y="1095" width="50" height="4"/><rect x="1040" y="1101" width="50" height="4"/><rect x="1035" y="1110" width="55" height="9"/><rect x="1040" y="1123" width="50" height="4"/><rect x="1040" y="1129" width="50" height="4"/><rect x="1012" y="1138" width="78" height="6"/><rect x="1012" y="1148" width="78" height="10"/></g>
<g><rect x="1010" y="1164" width="10" height="5" fill="#ddd"/><rect x="1040" y="1164" width="12" height="5" fill="#ddd"/><rect x="1055" y="1164" width="14" height="5" fill="#ddd"/><rect x="1071" y="1164" width="15" height="5" fill="#4a88d8"/><rect x="1088" y="1164" width="5" height="5" fill="#f0b030"/></g>
<text x="946.6" y="1201.7" font-size="21" fill="#111">TWAIN Panel</text>

<!-- TWAIN panel 2 -->
<rect x="928" y="1274" width="171" height="99.7" fill="#8a8a8a"/>
<rect x="923.7" y="1270.1" width="171" height="99.8" fill="#fafafa" stroke="#ccc" stroke-width=".5"/>
<rect x="961.3" y="1275.6" width="109" height="76.8" fill="#000"/>
<rect x="965.1" y="1278.1" width="99.5" height="68.8" fill="#f2f2f2"/>
<g stroke="#6a6a6a" stroke-width="1.1">
<path d="M971 1283v22M974 1283v26M977 1283v20M980 1283v24M983 1286v18M986 1283v22M971 1316v24M974 1312v28M977 1318v20M980 1315v25M992 1284v30M995 1284v26M998 1286v28M1001 1284v22M992 1320v20M996 1318v22M1000 1322v16M1014 1283v20M1017 1283v24M1020 1285v18M1023 1283v22M1026 1284v20M1014 1312v26M1017 1315v22M1020 1312v28M1023 1318v20M1036 1283v40M1039 1284v36M1042 1283v38M1045 1286v30M1048 1283v40M1051 1283v34M1054 1285v36M1057 1283v40M1036 1328v12M1044 1326v14M1052 1328v12"/>
</g>
<rect x="1002" y="1298" width="9" height="8" fill="#222"/>
<g fill="#e8e8e8" stroke="#000" stroke-width="2"><rect x="1074.1" y="1276.5" width="15.3" height="11.2"/><rect x="1074.1" y="1294.7" width="15.3" height="11.2"/><rect x="1074.1" y="1312.5" width="15.3" height="11.2"/><rect x="1074.1" y="1330.7" width="15.3" height="11.2"/></g>
<g fill="#aaa"><rect x="927" y="1283" width="10" height="2"/><rect x="941" y="1281" width="16" height="5"/><rect x="927" y="1298" width="10" height="2"/><rect x="941" y="1296" width="14" height="4"/><rect x="927" y="1306" width="10" height="2"/><rect x="941" y="1304" width="14" height="4"/><rect x="930" y="1314" width="20" height="2"/><rect x="930" y="1322" width="22" height="2"/><rect x="930" y="1328" width="14" height="2"/><rect x="930" y="1336" width="18" height="2"/><rect x="930" y="1344" width="16" height="2"/><rect x="927" y="1350" width="30" height="4"/></g>
<g fill="#ccc"><rect x="985" y="1356" width="20" height="2"/><rect x="1010" y="1356" width="12" height="2"/><rect x="1028" y="1356" width="15" height="2"/><rect x="1020" y="1362" width="20" height="4"/><rect x="1045" y="1362" width="18" height="4"/><rect x="1068" y="1362" width="18" height="4"/></g>
<text x="946.6" y="1397.7" font-size="21" fill="#111">TWAIN Panel</text>
</svg>

<!-- notes -->
<div class="a" style="left:231px;top:1477px;font-size:18.4px;line-height:22.3px;white-space:nowrap;color:#111">
<div>1, <span style="color:#e8322b">TWAIN-compliant application calls the TWAIN module when file menu acquire clicked.</span></div>
<div>2. <span style="color:#3b56a5">TWAIN module takes control of the scanner or camera.</span></div>
<div>3. <span style="color:#1a8a40">Scaner transmits image back to TWAIN module when Scan clicked.</span></div>
<div>4. <span style="color:#7b2a85">TWAIN module transfers image back to the applicaiton that TWAIN was acquired from.</span></div>
</div>

</div></body></html>
